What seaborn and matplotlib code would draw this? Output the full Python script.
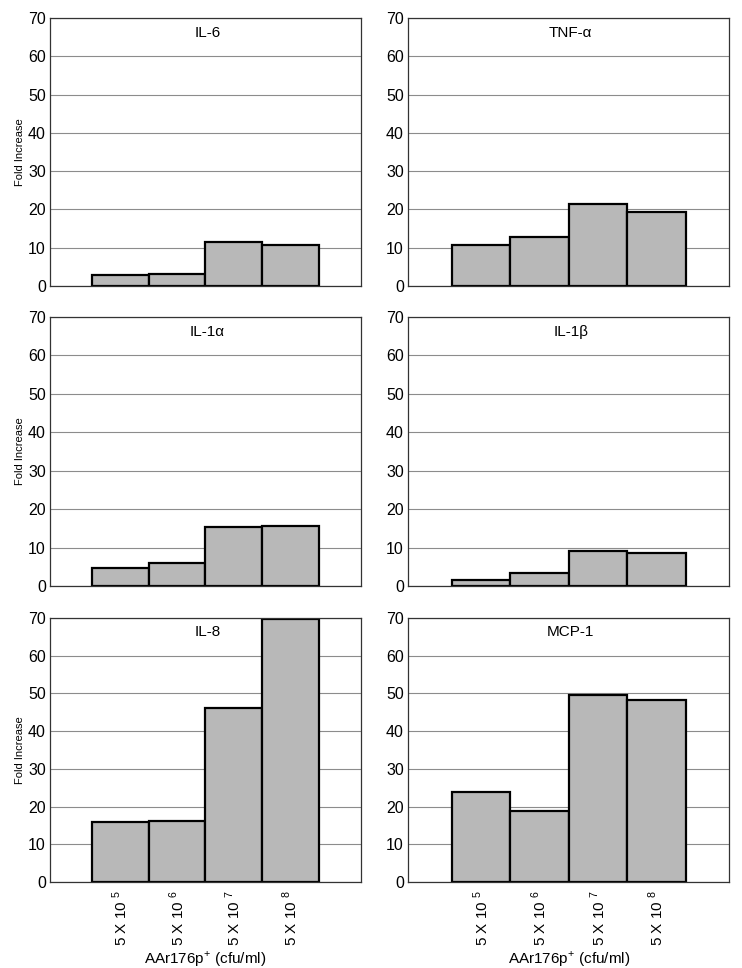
import matplotlib
matplotlib.use("Agg")
import matplotlib.pyplot as plt
import seaborn as sns
import pandas as pd

# Cytokine fold increase vs. bacterial dose
doses = [r"5 X 10 $^{5}$", r"5 X 10 $^{6}$", r"5 X 10 $^{7}$", r"5 X 10 $^{8}$"]
il6 = [2.8, 3.1, 11.5, 10.8]
tnfa = [10.8, 12.7, 21.3, 19.2]
il1a = [4.6, 5.9, 15.3, 15.5]
il1b = [1.6, 3.3, 9.1, 8.5]
il8 = [16.0, 16.3, 46.2, 69.6]
mcp1 = [23.8, 18.9, 49.6, 48.1]
titles = ["IL-6", "TNF-\u03b1", "IL-1\u03b1", "IL-1\u03b2", "IL-8", "MCP-1"]

panels = [il6, tnfa, il1a, il1b, il8, mcp1]

sns.set_style("white")
plt.rcParams['font.family'] = ['Liberation Sans', 'DejaVu Sans']
plt.rcParams['mathtext.fontset'] = 'custom'
plt.rcParams['mathtext.rm'] = 'Liberation Sans'
plt.rcParams['text.color'] = 'black'
plt.rcParams['axes.labelcolor'] = 'black'
plt.rcParams['xtick.color'] = 'black'
plt.rcParams['ytick.color'] = 'black'

fig = plt.figure(figsize=(7.42, 9.68), dpi=100)

# axes boxes in figure fractions [left, bottom, width, height]
col_x = [(0.0674, 0.419), (0.550, 0.433)]
row_y = [(0.7045, 0.277), (0.3946, 0.278), (0.0888, 0.273)]

for i, (vals, title) in enumerate(zip(panels, titles)):
    r, c = divmod(i, 2)
    ax = fig.add_axes([col_x[c][0], row_y[r][0], col_x[c][1], row_y[r][1]])
    df = pd.DataFrame({"dose": doses, "fold": vals})
    sns.barplot(data=df, x="dose", y="fold", order=doses, ax=ax, width=1.0,
                color="#b8b8b8", saturation=1, edgecolor="black", linewidth=1.6)
    ax.set_xlim(-1.25, 4.25)
    ax.set_ylim(0, 70)
    ax.set_yticks(range(0, 71, 10))
    ax.yaxis.grid(True, color="#8c8c8c", linewidth=0.8)
    ax.set_axisbelow(True)
    for s in ax.spines.values():
        s.set_color("#333333")
        s.set_linewidth(0.9)
    ax.tick_params(axis="y", labelsize=11.5, length=0, pad=3)
    ax.text(0.506, 0.945, title, transform=ax.transAxes, ha="center", va="center",
            fontsize=11)
    if c == 0:
        ax.set_ylabel("Fold Increase", fontsize=8, labelpad=2)
    else:
        ax.set_ylabel("")
    if r == 2:
        ax.set_xticks(range(len(doses)))
        ax.set_xticklabels(doses, rotation=90, fontsize=11)
        ax.tick_params(axis="x", length=0, pad=6)
        ax.set_xlabel(r"AAr176p$^{+}$ (cfu/ml)", fontsize=11, labelpad=2)
    else:
        ax.set_xticks([])
        ax.set_xlabel("")

fig.savefig("out.png", dpi=100)
